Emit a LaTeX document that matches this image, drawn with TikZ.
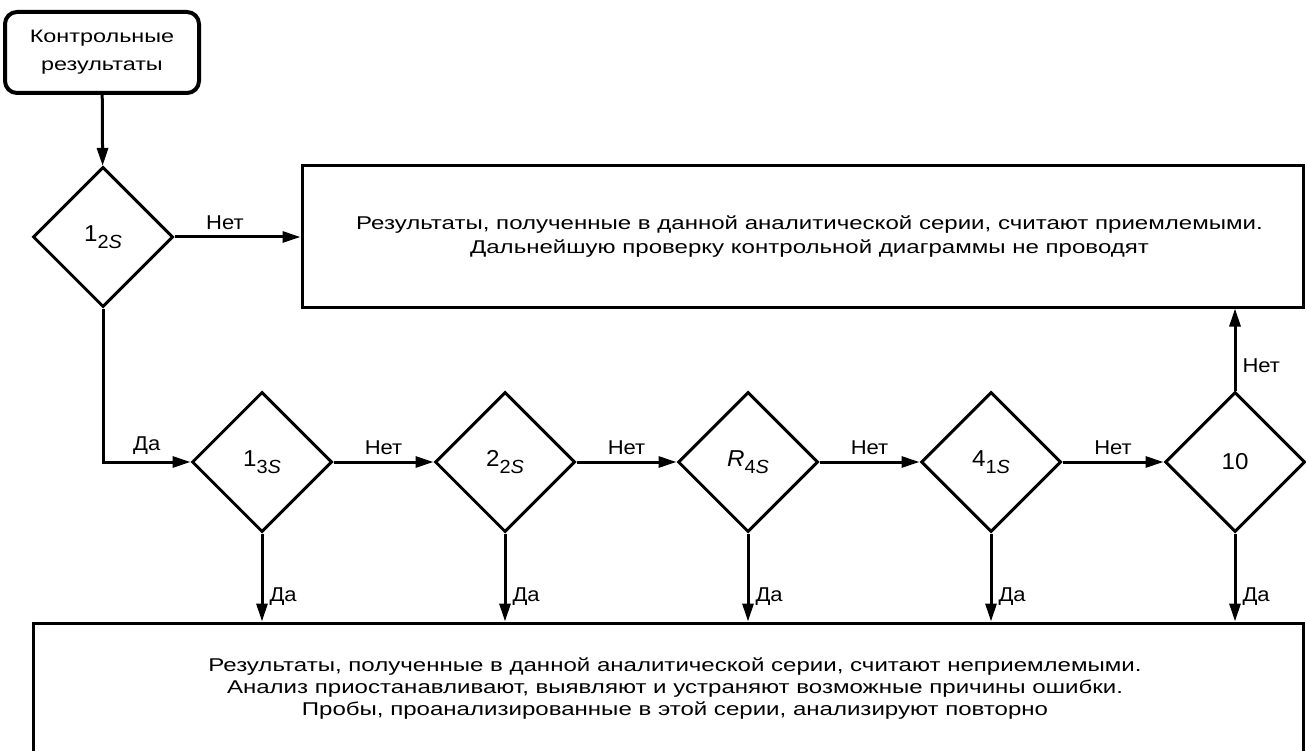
\documentclass[tikz,border=0pt]{standalone}
\usepackage{fontspec}
\setmainfont{Liberation Sans}[FakeStretch=1.3]
\newfontfamily\lfont{Liberation Sans}[FakeStretch=1.1]
\newfontfamily\dfont{Liberation Sans}[FakeStretch=1.05]
\usetikzlibrary{shapes.geometric,arrows.meta}
\newcommand\subidx[1]{\raisebox{-0.3em}{\fontsize{19}{19}\selectfont #1}}
\begin{document}
\begin{tikzpicture}[x=1pt,y=-1pt,
  dec/.style={diamond,draw,line width=3pt,minimum width=140pt,minimum height=140pt,inner sep=0pt,aspect=1,font=\dfont\fontsize{23}{23}\selectfont},
  box/.style={rectangle,draw,line width=3pt,align=center,inner sep=0pt},
  startbox/.style={rectangle,rounded corners=12pt,draw,line width=4pt,align=center,font=\fontsize{18}{28}\selectfont,inner sep=0pt,minimum width=194pt,minimum height=81pt},
  arr/.style={line width=3pt,-{Triangle[length=18pt,width=11pt]}},
  lbl/.style={font=\lfont\fontsize{20}{20}\selectfont,inner sep=2pt}]
\useasboundingbox (0,0) rectangle (1306,751);
\node[startbox] (start) at (102,52.5) {Контрольные\\результаты};
\node[dec] (d1) at (103,237) {1\subidx{2\textit{S}}};
\node[box,minimum width=1001pt,minimum height=141pt,font=\fontsize{18.5}{24}\selectfont] (ok) at (802.5,236.5)
  {\hspace*{14pt}Результаты, полученные в данной аналитической серии, считают приемлемыми.\\\hspace*{14pt}Дальнейшую проверку контрольной диаграммы не проводят};
\node[dec] (d2) at (262,462) {1\subidx{3\textit{S}}};
\node[dec] (d3) at (505,462) {2\subidx{2\textit{S}}};
\node[dec] (d4) at (748,462) {\textit{R}\subidx{4\textit{S}}};
\node[dec] (d5) at (991,462) {4\subidx{1\textit{S}}};
\node[dec] (d6) at (1235,462) {10};
\node[box,minimum width=1270pt,minimum height=131pt,font=\fontsize{18.5}{22}\selectfont] (bad) at (668,688.5)
  {\hspace*{14pt}Результаты, полученные в данной аналитической серии, считают неприемлемыми.\\\hspace*{14pt}Анализ приостанавливают, выявляют и устраняют возможные причины ошибки.\\\hspace*{14pt}Пробы, проанализированные в этой серии, анализируют повторно};
\draw[arr] (start) -- (d1);
\draw[arr] (d1.east) -- node[lbl,above=4pt,pos=0.4]{Нет} (d1.east -| ok.west);
\draw[arr] (d1.south) |- node[lbl,above=4pt,pos=0.75]{Да} (d2.west);
\draw[arr] (d2.east) -- node[lbl,above=4pt]{Нет} (d3.west);
\draw[arr] (d3.east) -- node[lbl,above=4pt]{Нет} (d4.west);
\draw[arr] (d4.east) -- node[lbl,above=4pt]{Нет} (d5.west);
\draw[arr] (d5.east) -- node[lbl,above=4pt]{Нет} (d6.west);
\draw[arr] (d6.north) -- node[lbl,right=4pt,pos=0.3]{Нет} (d6.north |- ok.south);
\foreach \d in {d2,d3,d4,d5,d6}
  \draw[arr] (\d.south) -- node[lbl,right=4pt,pos=0.72]{Да} (\d.south |- bad.north);
\end{tikzpicture}
\end{document}
